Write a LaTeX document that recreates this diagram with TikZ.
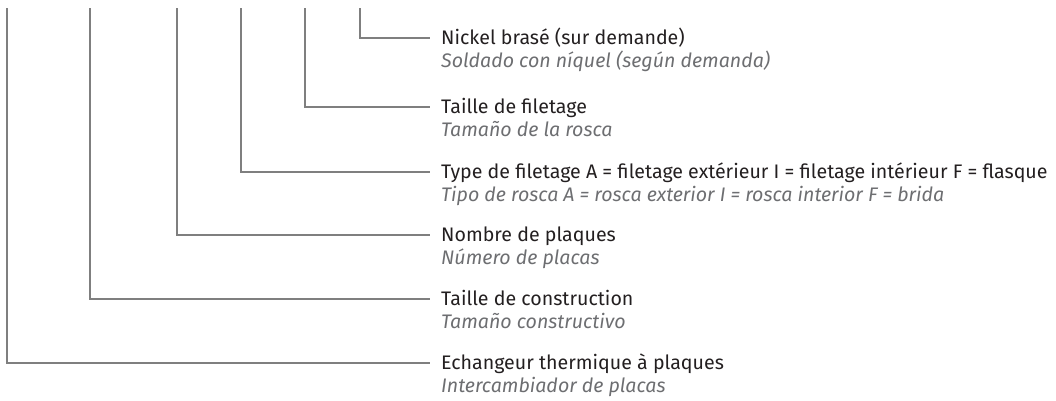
\documentclass[tikz,border=0pt]{standalone}
\usepackage{fontspec}
\setmainfont{Fira Sans}
\usetikzlibrary{positioning}
\definecolor{leadgray}{HTML}{7F7F7F}
\definecolor{textblack}{HTML}{231F20}
\definecolor{textgray}{HTML}{6D6E71}
\def\textx{430}
\def\topy{8}
\def\gap{22.5}

\begin{document}
\begin{tikzpicture}[x=1pt, y=-1pt,
    fr/.style={anchor=west, inner xsep=11pt, inner ysep=0pt, text height=17.5pt, text depth=4pt,
        font=\fontsize{19.6}{22}\selectfont, text=textblack},
    es/.style={anchor=base west, inner xsep=11pt, inner ysep=0pt,
        font=\fontsize{19.6}{22}\selectfont\itshape, text=textgray},
    lead/.style={draw=leadgray, line width=1.2pt}]
    \useasboundingbox (0,0) rectangle (1056,400);

    % Top ends of the leader lines, one per code position.
    \coordinate (c1) at (7, \topy);
    \coordinate (c2) at (90, \topy);
    \coordinate (c3) at (177, \topy);
    \coordinate (c4) at (241, \topy);
    \coordinate (c5) at (305, \topy);
    \coordinate (c6) at (360, \topy);

    % French label with the Spanish translation below it.
    \node[fr] (fr1) at (\textx, 363) {Echangeur thermique à plaques};
    \node[es] (es1) at ([yshift=-\gap pt]fr1.base west) {Intercambiador de placas};
    \node[fr] (fr2) at (\textx, 299) {Taille de construction};
    \node[es] (es2) at ([yshift=-\gap pt]fr2.base west) {Tamaño constructivo};
    \node[fr] (fr3) at (\textx, 235) {Nombre de plaques};
    \node[es] (es3) at ([yshift=-\gap pt]fr3.base west) {Número de placas};
    \node[fr] (fr4) at (\textx, 172) {Type de filetage A = filetage extérieur I = filetage intérieur F = flasque};
    \node[es] (es4) at ([yshift=-\gap pt]fr4.base west) {Tipo de rosca A = rosca exterior I = rosca interior F = brida};
    \node[fr] (fr5) at (\textx, 107) {Taille de filetage};
    \node[es] (es5) at ([yshift=-\gap pt]fr5.base west) {Tamaño de la rosca};
    \node[fr] (fr6) at (\textx, 38) {Nickel brasé (sur demande)};
    \node[es] (es6) at ([yshift=-\gap pt]fr6.base west) {Soldado con níquel (según demanda)};

    % Leader lines.
    \foreach \i in {1,...,6} {
            \draw[lead] (c\i) |- (fr\i.west);
        }
\end{tikzpicture}
\end{document}
